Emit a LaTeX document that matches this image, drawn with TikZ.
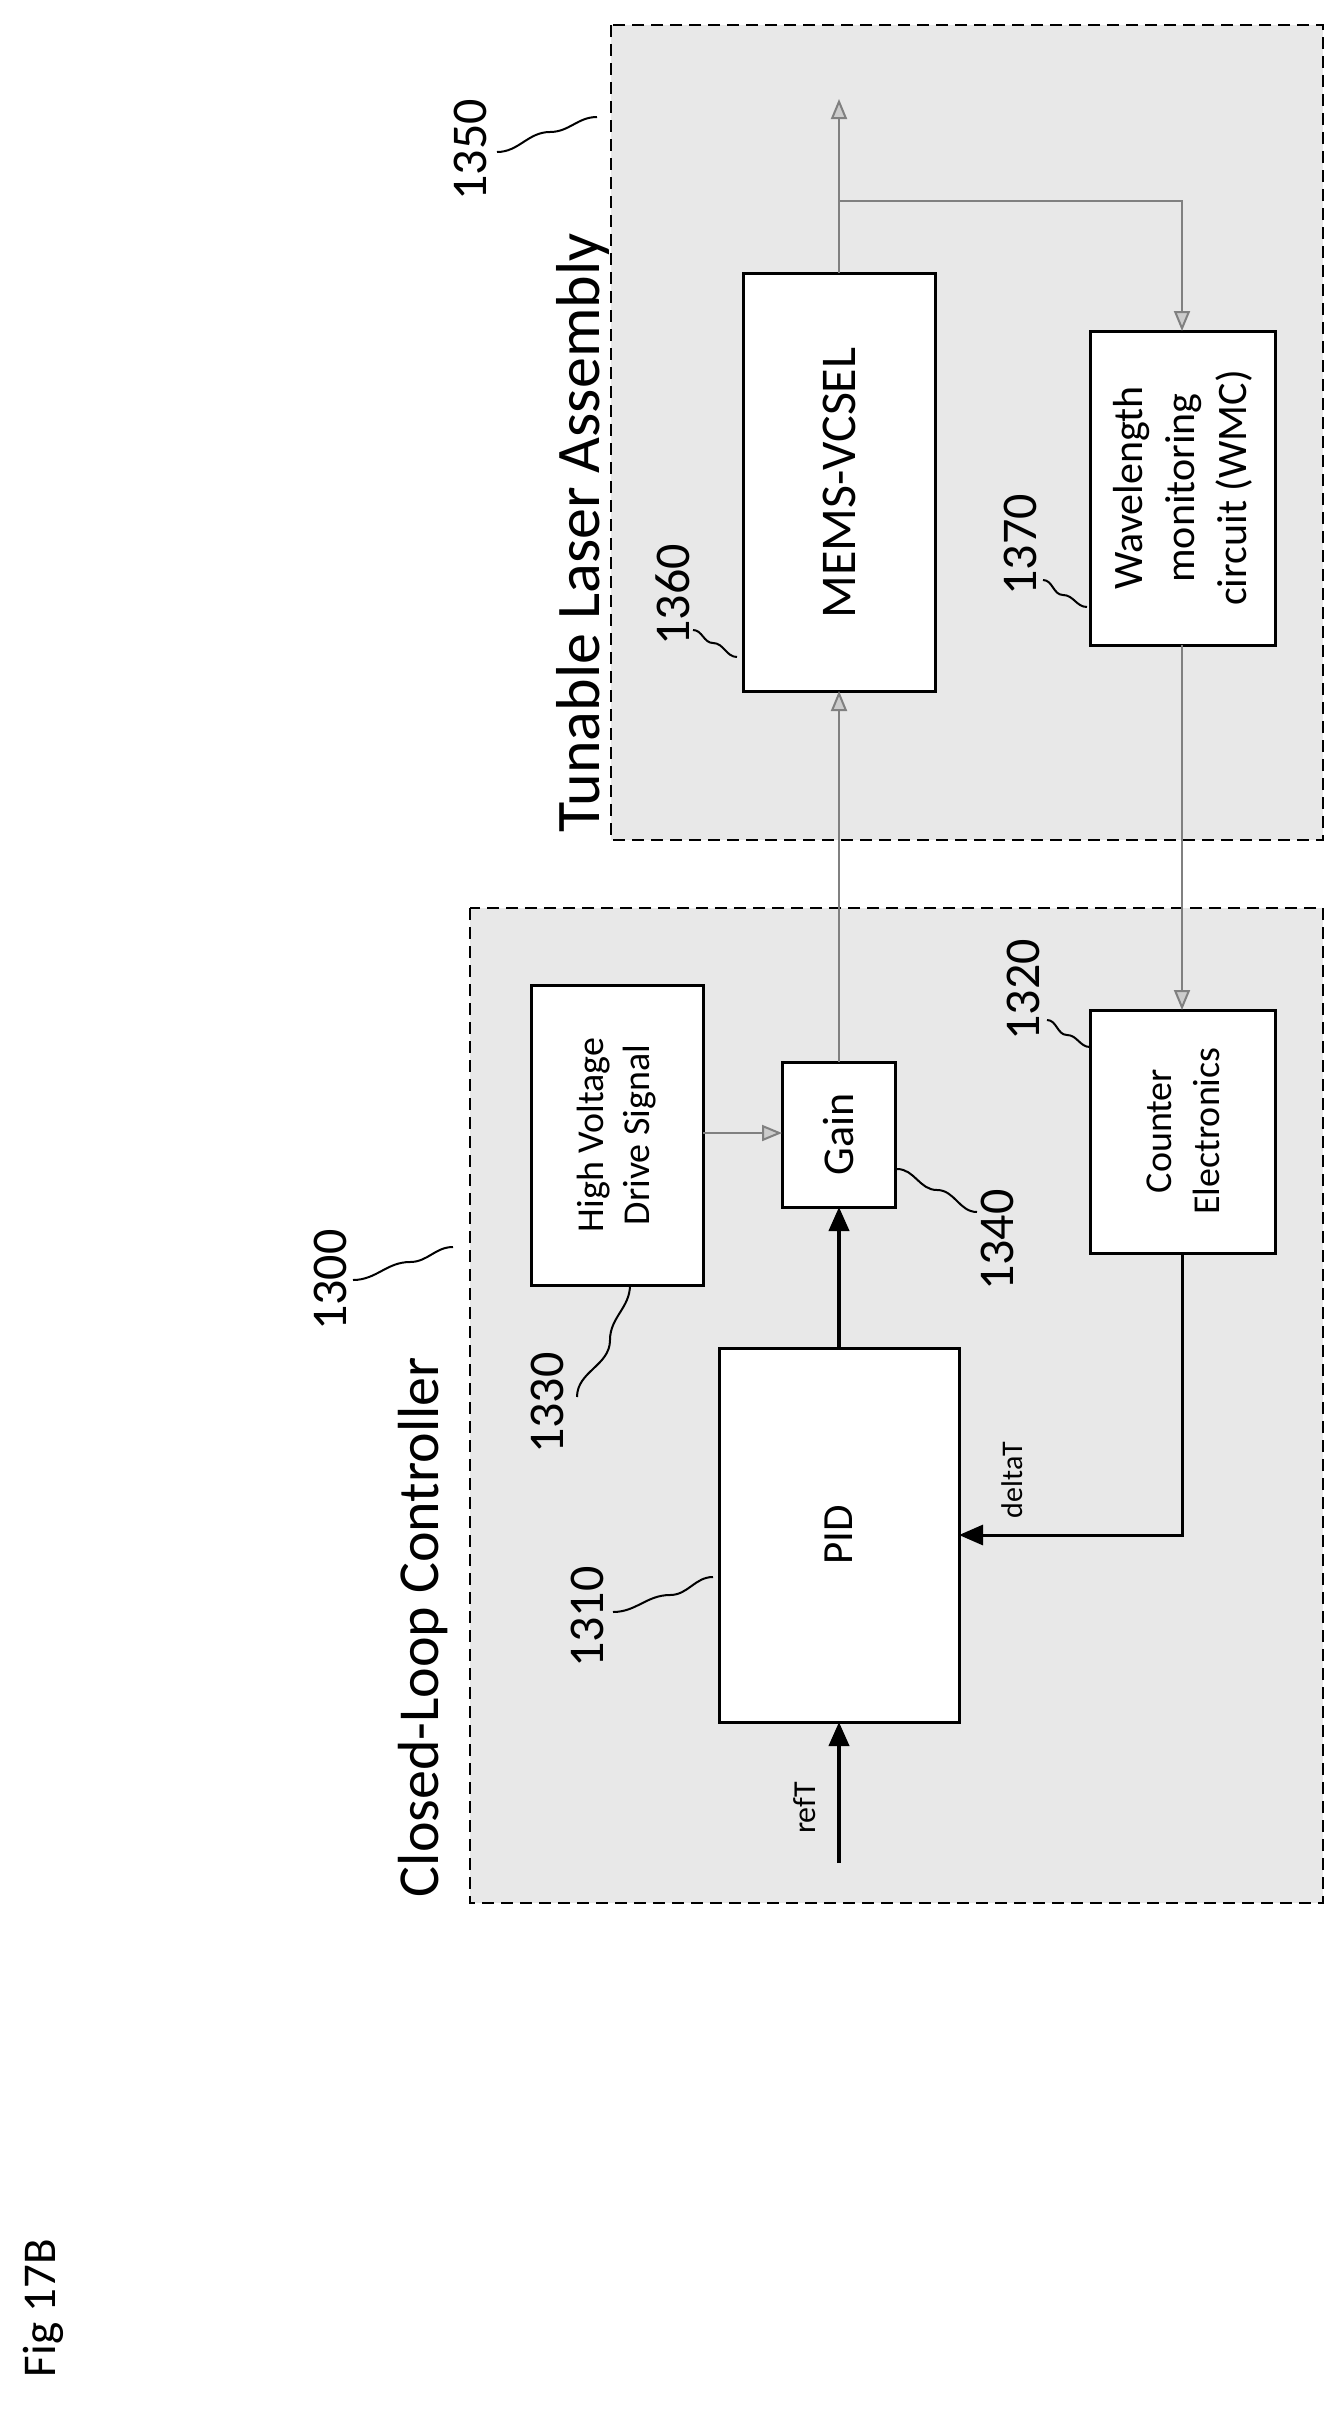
\documentclass[tikz,border=0pt]{standalone}
\usepackage{fontspec}
\setmainfont{Carlito}
\usetikzlibrary{arrows.meta}
\begin{document}
\begin{tikzpicture}[x=1pt,y=-1pt,
  box/.style={draw,line width=3pt,fill=white},
  txt/.style={rotate=90,align=center},
  ref/.style={rotate=90,font=\fontsize{50}{56}\selectfont},
  leader/.style={line width=2pt},
  garr/.style={draw=gray,line width=2pt,-{Triangle[open,fill=gray!40,length=20pt,width=16pt]}},
  barr/.style={line width=4pt,-{Triangle[length=24pt,width=20pt]}},
  grp/.style={draw,line width=2.5pt,dash pattern=on 12pt off 7pt,fill=black!9}]
\useasboundingbox (0,0) rectangle (1335,2412);
\fill[white] (0,0) rectangle (1335,2412);
\draw[grp] (470,908) rectangle (1323,1903);
\draw[grp] (611,25) rectangle (1323,840);
\node[rotate=90,font=\fontsize{58}{64}\selectfont] (clc) at (423,1627) {Closed-Loop Controller};
\node[rotate=90,font=\fontsize{62}{68}\selectfont] (tla) at (583,533) {Tunable Laser Assembly};
\node[ref] (r1300) at (330,1280) {1300};
\node[ref] (r1350) at (470,150) {1350};
\node[ref] (r1310) at (587,1617) {1310};
\node[ref] (r1330) at (547,1403) {1330};
\node[ref] (r1340) at (997,1240) {1340};
\node[ref] (r1320) at (1023,990) {1320};
\node[ref] (r1360) at (673,595) {1360};
\node[ref] (r1370) at (1020,545) {1370};
\node[rotate=90,font=\fontsize{47}{52}\selectfont] (fig) at (43,2308) {Fig 17B};
\draw[box] (719,1348) rectangle (959,1722); \node[txt,font=\fontsize{43}{50}\selectfont] (pid) at (839,1535) {PID};
\coordinate (pidT) at (839,1348); \coordinate (pidB) at (839,1722); \coordinate (pidR) at (959,1535);
\draw[box] (531,985) rectangle (703,1285); \node[txt,font=\fontsize{38}{46}\selectfont] (hv) at (617,1135) {High Voltage\\Drive Signal};
\draw[box] (782,1062) rectangle (895,1207); \node[txt,font=\fontsize{44}{50}\selectfont] (gain) at (839,1134) {Gain};
\draw[box] (1090,1010) rectangle (1275,1253); \node[txt,font=\fontsize{38}{48}\selectfont] (ce) at (1183,1131) {Counter\\Electronics};
\draw[box] (743,273) rectangle (935,691); \node[txt,font=\fontsize{50}{56}\selectfont] (mems) at (839,483) {MEMS-VCSEL};
\draw[box] (1090,331) rectangle (1275,645); \node[txt,font=\fontsize{42}{52}\selectfont] (wmc) at (1183,488) {Wavelength\\monitoring\\circuit (WMC)};
\coordinate (refs) at (839,1863);
\draw[barr] (refs) -- (pidB);
\node[rotate=90,font=\fontsize{32}{36}\selectfont] (reft) at (805,1808) {refT};
\draw[barr] (pidT) -- (839,1207);
\draw[garr] (703,1133) -- (782,1133);
\draw[garr] (839,1062) -- (839,691);
\coordinate (out) at (839,99);
\draw[garr] (839,273) -- (out);
\draw[garr] (839,201) -- (1182,201) -- (1182,331);
\draw[garr] (1182,645) -- (1182,1010);
\draw[barr,line width=3pt] (1182,1253) -- (1182,1535) -- (pidR);
\node[rotate=90,font=\fontsize{30}{34}\selectfont] (dt) at (1012,1480) {deltaT};
\draw[leader] (453,1247) to[out=180,in=0] (410,1262) to[out=180,in=0] (353,1280);
\draw[leader] (597,117) to[out=180,in=0] (550,132) to[out=180,in=0] (497,152);
\draw[leader] (713,1577) to[out=180,in=0] (670,1595) to[out=180,in=0] (613,1612);
\draw[leader] (630,1285) to[out=-90,in=90] (610,1340) to[out=-90,in=90] (577,1397);
\draw[leader] (897,1169) to[out=0,in=180] (937,1190) to[out=0,in=180] (977,1212);
\draw[leader] (1090,1047) to[out=180,in=0] (1067,1035) to[out=180,in=0] (1047,1020);
\draw[leader] (737,657) to[out=180,in=0] (713,643) to[out=180,in=0] (693,630);
\draw[leader] (1087,607) to[out=180,in=0] (1063,595) to[out=180,in=0] (1043,580);
\end{tikzpicture}
\end{document}
